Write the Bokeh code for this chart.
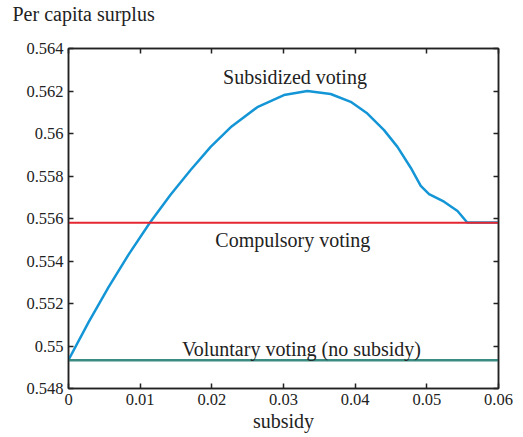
from bokeh.plotting import figure
from bokeh.models import Range1d, LinearAxis, FixedTicker, CustomJSTickFormatter, Label
from bokeh.embed import file_html
from bokeh.resources import INLINE

# ---- data ----
subsidy = [0.0, 0.00279, 0.00559, 0.00838, 0.01135, 0.01424, 0.01704, 0.01983, 0.02262,
           0.02635, 0.03006, 0.03333, 0.03658, 0.03938, 0.04171, 0.04403, 0.04590,
           0.04775, 0.04915, 0.05031, 0.05240, 0.05428, 0.05564, 0.0600]
subsidized_surplus = [0.54934, 0.55111, 0.55277, 0.55430, 0.55580, 0.55712, 0.55828, 0.55937,
                      0.56029, 0.56124, 0.56181, 0.56200, 0.56186, 0.56149, 0.56094, 0.56016,
                      0.55937, 0.55839, 0.55754, 0.55715, 0.55679, 0.55635, 0.55581, 0.55581]
compulsory_x = [0.0, 0.06]
compulsory_surplus = [0.55580, 0.55580]
voluntary_x = [0.0, 0.06]
voluntary_surplus = [0.54933, 0.54933]

x_ticks = [0.0, 0.01, 0.02, 0.03, 0.04, 0.05, 0.06]
y_ticks = [0.548, 0.55, 0.552, 0.554, 0.556, 0.558, 0.56, 0.562, 0.564]

y_title = "Per capita surplus"
x_title = "subsidy"
label_texts = ["Subsidized voting", "Compulsory voting", "Voluntary voting (no subsidy)"]
label_x = [0.0316, 0.0313, 0.0325]
label_y = [0.56267, 0.5550, 0.54988]

FONT = "Liberation Serif"
INK = "#222222"

p = figure(output_backend="svg", toolbar_location=None,
           frame_width=430, frame_height=340,
           min_border_left=68, min_border_right=20, min_border_top=47, min_border_bottom=44,
           x_range=Range1d(0, 0.06), y_range=Range1d(0.548, 0.564),
           background_fill_color="white", border_fill_color="white")

p.xgrid.visible = False
p.ygrid.visible = False
p.outline_line_color = INK
p.outline_line_width = 1.5

fmt = CustomJSTickFormatter(code="return parseFloat(tick.toFixed(4)).toString();")
blank = CustomJSTickFormatter(code="return ' ';")
empty = CustomJSTickFormatter(code="return '';")

def style_axis(ax, ticks, show_labels=True):
    ax.ticker = FixedTicker(ticks=ticks)
    ax.formatter = fmt if show_labels else empty
    ax.major_tick_in = 5
    ax.major_tick_out = 0
    ax.minor_tick_in = 0
    ax.minor_tick_out = 0
    ax.axis_line_color = INK
    ax.axis_line_width = 1.5
    ax.major_tick_line_color = INK
    ax.major_tick_line_width = 1.5
    ax.major_label_text_font = FONT
    ax.major_label_text_font_size = "16.5px" if show_labels else "1px"
    ax.major_label_standoff = 5 if show_labels else 0
    ax.major_label_text_color = INK
    ax.axis_label_text_font = FONT
    ax.axis_label_text_font_style = "normal"
    ax.axis_label_text_font_size = "20px"
    ax.axis_label_text_color = INK

style_axis(p.xaxis[0], x_ticks)
style_axis(p.yaxis[0], y_ticks)
p.xaxis[0].axis_label = x_title
p.xaxis[0].axis_label_standoff = 2

top = LinearAxis()
style_axis(top, x_ticks, show_labels=False)
top.formatter = blank
top.major_label_standoff = 20   # spacer between frame and the title above
p.add_layout(top, "above")
right = LinearAxis()
style_axis(right, y_ticks, show_labels=False)
p.add_layout(right, "right")

p.title.text = y_title
p.title.text_font = FONT
p.title.text_font_style = "normal"
p.title.text_font_size = "20px"
p.title.text_color = INK
p.title.align = "left"
p.title.offset = -56
p.title.standoff = 0

p.line(subsidy, subsidized_surplus, line_color="#1496d6", line_width=2.5, line_join="round")
p.line(voluntary_x, voluntary_surplus, line_color="#3a8b82", line_width=2.5)
p.line(compulsory_x, compulsory_surplus, line_color="#e5252f", line_width=2.2)

for txt, lx, ly in zip(label_texts, label_x, label_y):
    p.add_layout(Label(x=lx, y=ly, text=txt, text_font=FONT, text_font_size="20px",
                       text_color=INK, text_align="center", text_baseline="middle"))

open("out.html", "w").write(file_html(p, INLINE))
